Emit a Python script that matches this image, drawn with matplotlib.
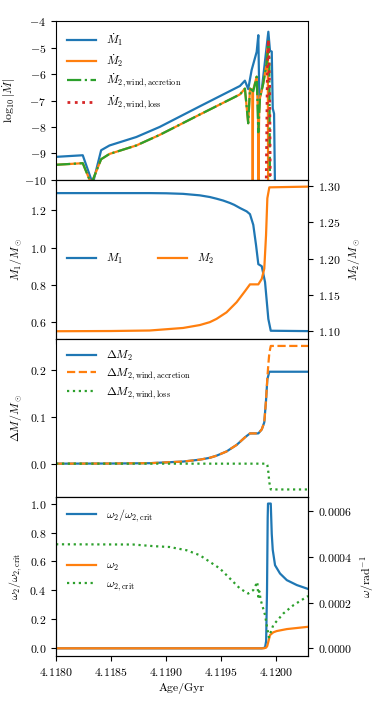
import numpy as np
import matplotlib
matplotlib.use("Agg")
import matplotlib.pyplot as plt
from matplotlib.ticker import MultipleLocator

plt.rcParams['font.family'] = 'serif'
plt.rcParams['font.serif'] = ['cmr10']
plt.rcParams['mathtext.fontset'] = 'cm'
plt.rcParams['axes.formatter.use_mathtext'] = True
plt.rcParams['font.size'] = 8.5
plt.rcParams['axes.unicode_minus'] = True

# ---- panel 1: log10 |Mdot| ----
t_md1 = [4.118000, 4.118243, 4.118334, 4.118410, 4.118486, 4.118730, 4.118942,
         4.119307, 4.119672, 4.119717, 4.119747, 4.119778, 4.119824, 4.119839,
         4.119848, 4.119870, 4.119915, 4.119930, 4.119945, 4.119961, 4.119970,
         4.119982, 4.119991]
md1 = [-9.13, -9.07, -10.15, -8.88, -8.70, -8.38, -8.00,
       -7.22, -6.45, -6.25, -6.57, -5.85, -5.16, -4.53,
       -6.95, -6.60, -4.95, -4.40, -5.12, -5.15, -7.30,
       -7.50, -10.5]

t_acc = [4.118000, 4.118243, 4.118320, 4.118410, 4.118486, 4.118730, 4.118942,
         4.119307, 4.119672, 4.119717, 4.119747, 4.119763, 4.119793, 4.119824,
         4.119839, 4.119854, 4.119884, 4.119915, 4.119930, 4.119939, 4.119945]
md_acc = [-9.43, -9.37, -10.15, -9.22, -9.02, -8.70, -8.30,
          -7.53, -6.77, -6.55, -7.86, -6.55, -6.65, -6.10,
          -8.20, -6.90, -6.35, -5.60, -4.75, -5.40, -10.5]

t_md2 = [4.118000, 4.118243, 4.118320, 4.118410, 4.118486, 4.118730, 4.118942,
         4.119307, 4.119672, 4.119717, 4.119747, 4.119763, 4.119785, 4.119788,
         4.119791, 4.119824, 4.119836, 4.119840, 4.119846, 4.119854, 4.119884,
         4.119915, 4.119925, 4.119928]
md2 = [-9.43, -9.37, -10.15, -9.22, -9.02, -8.70, -8.30,
       -7.53, -6.77, -6.55, -7.86, -6.55, -6.60, -10.5,
       -6.62, -6.10, -7.50, -10.5, -7.50, -6.90, -6.35,
       -5.60, -5.00, -10.5]

t_loss = [4.119910, 4.119921, 4.119930, 4.119936, 4.119942, 4.119948]
md_loss = [-10.5, -6.0, -4.7, -5.5, -6.5, -10.5]

# ---- panel 2: masses ----
t_m1 = [4.118000, 4.118500, 4.118851, 4.119003, 4.119155, 4.119307, 4.119398,
        4.119459, 4.119520, 4.119581, 4.119620, 4.119672, 4.119733, 4.119763,
        4.119793, 4.119818, 4.119839, 4.119870, 4.119900, 4.119930, 4.119952,
        4.120292]
m1 = [1.292, 1.292, 1.292, 1.291, 1.288, 1.280, 1.271,
      1.262, 1.252, 1.239, 1.229, 1.212, 1.194, 1.179,
      1.122, 1.014, 0.911, 0.900, 0.815, 0.617, 0.554,
      0.552]

t_m2 = [4.118000, 4.118500, 4.118851, 4.119155, 4.119307, 4.119398, 4.119459,
        4.119550, 4.119642, 4.119717, 4.119763, 4.119839, 4.119870, 4.119893,
        4.119909, 4.119921, 4.119939, 4.120292]
m2 = [1.100, 1.1003, 1.101, 1.1045, 1.1085, 1.1125, 1.117,
      1.126, 1.140, 1.155, 1.1645, 1.1645, 1.172, 1.186,
      1.232, 1.283, 1.298, 1.299]

# ---- panel 3: accumulated mass changes ----
t_dm = [4.118000, 4.118500, 4.118851, 4.119155, 4.119307, 4.119398, 4.119459,
        4.119550, 4.119642, 4.119717, 4.119763, 4.119839, 4.119870, 4.119893,
        4.119909, 4.119921, 4.119939, 4.120292]
dm2 = [0.0, 0.0003, 0.001, 0.0045, 0.0085, 0.0125, 0.017,
       0.026, 0.040, 0.056, 0.0645, 0.0645, 0.073, 0.088,
       0.135, 0.180, 0.196, 0.196]

t_dacc = [4.118000, 4.118500, 4.118851, 4.119155, 4.119307, 4.119398, 4.119459,
          4.119550, 4.119642, 4.119717, 4.119763, 4.119839, 4.119870, 4.119893,
          4.119909, 4.119921, 4.119930, 4.119939, 4.119952, 4.120292]
dm_acc = [0.0, 0.0003, 0.001, 0.0045, 0.0085, 0.0125, 0.017,
          0.026, 0.040, 0.056, 0.0645, 0.0645, 0.073, 0.088,
          0.135, 0.183, 0.212, 0.236, 0.251, 0.251]

t_dloss = [4.118000, 4.119915, 4.119921, 4.119930, 4.119939, 4.119952, 4.120292]
dm_loss = [0.0, 0.0, -0.003, -0.018, -0.040, -0.055, -0.055]

# ---- panel 4: rotation ----
t_ratio = [4.118000, 4.119870, 4.119900, 4.119910, 4.119918, 4.119924, 4.119927,
           4.119952, 4.119961, 4.119970, 4.119991, 4.120036, 4.120098, 4.120189,
           4.120292]
ratio = [0.0, 0.0, 0.005, 0.05, 0.40, 0.90, 1.0,
         1.0, 0.79, 0.68, 0.574, 0.517, 0.471, 0.437,
         0.410]

t_om = [4.118000, 4.119890, 4.119910, 4.119920, 4.119930, 4.119945, 4.119975,
        4.120006, 4.120098, 4.120292]
om2 = [0.0, 0.0, 0.000003, 0.000010, 0.000029, 0.000058, 0.000070,
       0.0000756, 0.0000843, 0.0000944]

t_omc = [4.118000, 4.118700, 4.118881, 4.119033, 4.119186, 4.119307, 4.119398,
         4.119489, 4.119581, 4.119672, 4.119747, 4.119793, 4.119830, 4.119839,
         4.119848, 4.119861, 4.119900, 4.119915, 4.119935, 4.119975, 4.120067,
         4.120158, 4.120280, 4.120292]
om_crit = [0.000456, 0.000455, 0.000448, 0.000444, 0.000430, 0.000408, 0.000379,
           0.000350, 0.000306, 0.000262, 0.000240, 0.000255, 0.000291, 0.000226,
           0.000250, 0.000211, 0.000146, 0.000102, 0.000048, 0.000102, 0.000153,
           0.000189, 0.000226, 0.000229]

C0, C1, C2, C3 = '#1f77b4', '#ff7f0e', '#2ca02c', '#d62728'
lw = 1.6

fig, axs = plt.subplots(4, 1, sharex=True, figsize=(3.76, 7.05), dpi=100)
fig.subplots_adjust(left=0.149, right=0.819, top=0.970, bottom=0.0695, hspace=0)

# panel 1
ax = axs[0]
ax.plot(t_md1, md1, color=C0, lw=lw, label=r'$\dot{M}_1$')
ax.plot(t_md2, md2, color=C1, lw=lw, label=r'$\dot{M}_2$')
ax.plot(t_acc, md_acc, color=C2, lw=lw, ls='-.', label=r'$\dot{M}_{2,\rm wind,accretion}$')
ax.plot(t_loss, md_loss, color=C3, lw=2, ls=':', label=r'$\dot{M}_{2,\rm wind,loss}$')
ax.set_ylim(-10, -4)
ax.set_ylabel(r'$\log_{10}|\dot{M}|$')
ax.legend(loc='upper left', frameon=False, fontsize=8.5, handlelength=2.5,
          labelspacing=0.3)

# panel 2
ax = axs[1]
l1, = ax.plot(t_m1, m1, color=C0, lw=lw, label=r'$M_1$')
ax.set_ylim(0.512, 1.363)
ax.set_ylabel(r'$M_1/M_\odot$')
axr = ax.twinx()
l2, = axr.plot(t_m2, m2, color=C1, lw=lw, label=r'$M_2$')
axr.set_ylim(1.0899, 1.3083)
axr.set_ylabel(r'$M_2/M_\odot$')
axr.yaxis.set_major_locator(MultipleLocator(0.05))
ax.legend([l1, l2], [r'$M_1$', r'$M_2$'], loc='center left', ncol=2,
          frameon=False, fontsize=8.5, handlelength=2.5, columnspacing=3.0)
ax.yaxis.set_major_locator(MultipleLocator(0.2))

# panel 3
ax = axs[2]
ax.plot(t_dm, dm2, color=C0, lw=lw, label=r'$\Delta M_2$')
ax.plot(t_dacc, dm_acc, color=C1, lw=lw, ls='--', label=r'$\Delta M_{2,\rm wind,accretion}$')
ax.plot(t_dloss, dm_loss, color=C2, lw=lw, ls=':', label=r'$\Delta M_{2,\rm wind,loss}$')
ax.set_ylim(-0.0717, 0.2667)
ax.yaxis.set_major_locator(MultipleLocator(0.1))
ax.set_ylabel(r'$\Delta M/M_\odot$')
ax.legend(loc='upper left', frameon=False, fontsize=8.5, handlelength=2.5,
          labelspacing=0.3)

# panel 4
ax = axs[3]
ax.plot(t_ratio, ratio, color=C0, lw=lw, label=r'$\omega_2/\omega_{2,\rm crit}$')
ax.set_ylim(-0.053, 1.0434)
ax.yaxis.set_major_locator(MultipleLocator(0.2))
ax.set_ylabel(r'$\omega_2/\omega_{2,\rm crit}$')
ax.legend(loc='upper left', frameon=False, fontsize=8.5, handlelength=2.5)
axr = ax.twinx()
axr.plot(t_om, om2, color=C1, lw=lw, label=r'$\omega_2$')
axr.plot(t_omc, om_crit, color=C2, lw=lw, ls=':', label=r'$\omega_{2,\rm crit}$')
axr.set_ylim(-0.0000337, 0.000662)
axr.yaxis.set_major_locator(MultipleLocator(0.0002))
axr.ticklabel_format(axis='y', style='plain', useOffset=False)
axr.set_ylabel(r'$\omega/\mathrm{rad}^{-1}$')
axr.legend(loc='center left', frameon=False, fontsize=8.5, handlelength=2.5)

ax.set_xlim(4.118, 4.12029)
ax.xaxis.set_major_locator(MultipleLocator(0.0005))
ax.ticklabel_format(axis='x', style='plain', useOffset=False)
ax.set_xlabel('Age/Gyr')

fig.savefig('out.png', dpi=100)
